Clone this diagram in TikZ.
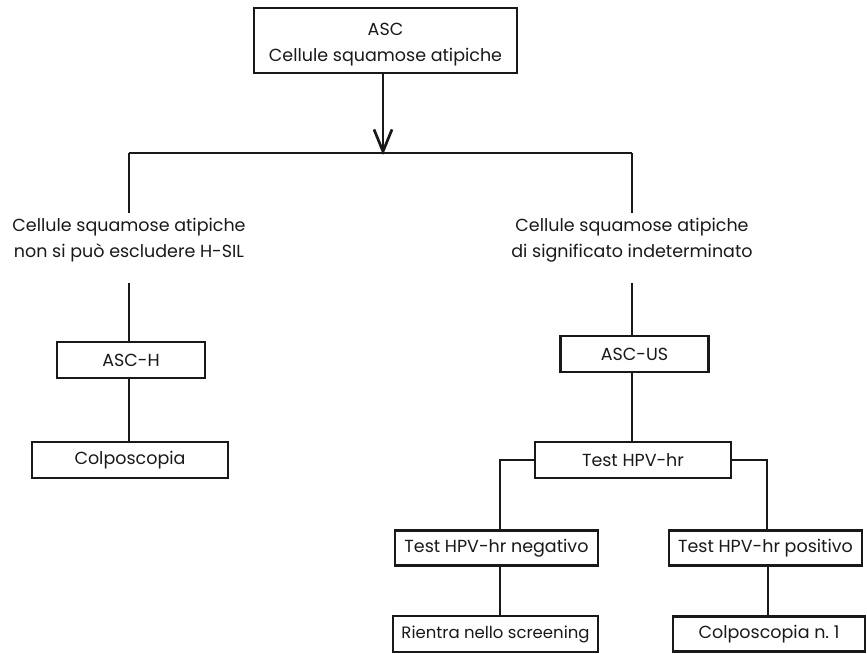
\documentclass[tikz,border=0pt]{standalone}
\usepackage{fontspec}
\setmainfont{Poppins}
\usetikzlibrary{arrows.meta}
\begin{document}
\begin{tikzpicture}[x=1pt,y=-1pt,
  every node/.style={font=\fontsize{17.5}{26}\selectfont, text=black!90},
  box/.style={draw=black!90, line width=2.7pt, inner sep=0pt, align=center},
  lbl/.style={inner sep=0pt, align=center, minimum height=54pt},
  conn/.style={draw=black!90, line width=2.7pt}]
\useasboundingbox (0,0) rectangle (867,653);
\node[box, minimum width=263pt, minimum height=65pt] (asc) at (385.5,40.5) {\rule{0pt}{21pt}ASC\\Cellule squamose atipiche};
\coordinate (bar) at (383,153);
\coordinate (barL) at (129,153);
\coordinate (barR) at (632,153);
\node[lbl] (lblL) at (129,240) {Cellule squamose atipiche\\non si può escludere H-SIL};
\node[lbl] (lblR) at (632,240) {Cellule squamose atipiche\\di significato indeterminato};
\node[box, minimum width=148pt, minimum height=36pt] (asch) at (131,360) {ASC-H};
\node[box, minimum width=196pt, minimum height=36pt] (colpL) at (130,460) {Colposcopia};
\node[box, minimum width=148pt, minimum height=36pt] (ascus) at (634.5,354) {ASC-US};
\node[box, minimum width=196pt, minimum height=36pt] (test) at (633,460) {Test HPV-hr};
\node[box, minimum width=203pt, minimum height=35pt] (neg) at (496.5,548) {Test HPV-hr negativo};
\node[box, minimum width=193pt, minimum height=35pt] (pos) at (765.5,548) {Test HPV-hr positivo};
\node[box, minimum width=205pt, minimum height=36pt, font=\fontsize{16.5}{20}\selectfont] (rien) at (495.5,634) {Rientra nello screening};
\node[box, minimum width=192pt, minimum height=35pt] (colpR) at (769,634) {Colposcopia n.\ 1};
\draw[conn, -{Straight Barb[length=22pt,width=18pt,line width=2.7pt]}] (asc.south -| bar) -- ([yshift=-2pt]bar);
\draw[conn] (barL) -- (barR);
\draw[conn] (barL) -- (lblL.north);
\draw[conn] (barR) -- (lblR.north);
\draw[conn] ([yshift=-16pt]lblL.south) -- (lblL.south |- asch.north);
\draw[conn] ([yshift=-16pt]lblR.south) -- (lblR.south |- ascus.north);
\draw[conn] (asch.south -| lblL.south) -- (colpL.north -| lblL.south);
\draw[conn] (ascus.south -| lblR.south) -- (test.north -| lblR.south);
\draw[conn] (test.west) -- (test.west -| 500,0) -- (neg.north -| 500,0);
\draw[conn] (test.east) -- (test.east -| 767,0) -- (pos.north -| 767,0);
\draw[conn] (neg.south -| 500,0) -- (rien.north -| 500,0);
\draw[conn] (pos.south -| 768,0) -- (colpR.north -| 768,0);
\end{tikzpicture}
\end{document}
